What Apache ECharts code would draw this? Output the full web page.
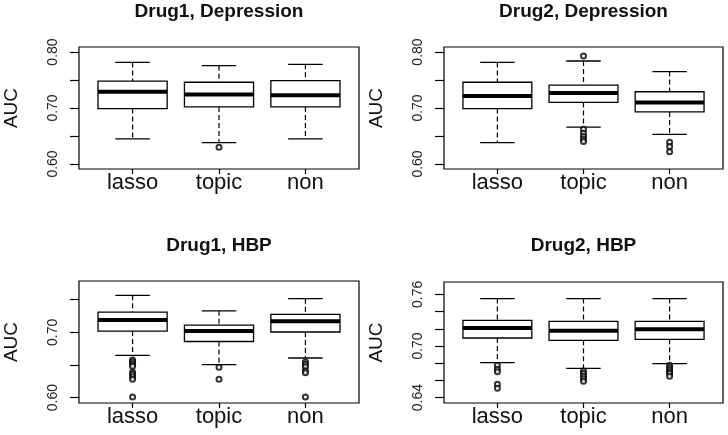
<!DOCTYPE html>
<html><head><meta charset="utf-8">
<script src="https://cdn.jsdelivr.net/npm/echarts@6/dist/echarts.min.js"></script>
<style>html,body{margin:0;padding:0;background:#fff}#c{width:728px;height:435px}</style>
</head><body><div id="c"></div>
<script>
const categories = ['lasso', 'topic', 'non'];
const titles = ['Drug1, Depression', 'Drug2, Depression', 'Drug1, HBP', 'Drug2, HBP'];

// [lower whisker, Q1, median, Q3, upper whisker] for lasso, topic, non
const drug1DepStats = [[0.645, 0.699, 0.729, 0.748, 0.7815], [0.638, 0.702, 0.724, 0.746, 0.7756], [0.645, 0.702, 0.7226, 0.749, 0.778]];
const drug1DepOutliers = [[], [0.630], []];

const drug2DepStats = [[0.638, 0.699, 0.7214, 0.746, 0.7815], [0.666, 0.710, 0.727, 0.741, 0.784], [0.653, 0.693, 0.710, 0.729, 0.765]];
const drug2DepOutliers = [[], [0.793, 0.662, 0.655, 0.649, 0.644, 0.640], [0.639, 0.631, 0.622]];

const drug1HbpStats = [[0.6648, 0.702, 0.719, 0.731, 0.7566], [0.6505, 0.686, 0.702, 0.711, 0.733], [0.6607, 0.7005, 0.717, 0.7276, 0.7515]];
const drug1HbpOutliers = [[0.6577, 0.6546, 0.651, 0.648, 0.639, 0.636, 0.632, 0.628, 0.601], [0.6464, 0.628], [0.6546, 0.651, 0.6474, 0.6413, 0.638, 0.601]];

const drug2HbpStats = [[0.6806, 0.7093, 0.721, 0.7298, 0.755], [0.674, 0.7066, 0.7178, 0.7286, 0.755], [0.6795, 0.7077, 0.7194, 0.7286, 0.755]];
const drug2HbpOutliers = [[0.6775, 0.673, 0.670, 0.6555, 0.6508], [0.671, 0.668, 0.665, 0.662, 0.659], [0.6775, 0.675, 0.6725, 0.670, 0.668, 0.665]];

// axis ranges and ticks
const yRanges = [[0.591, 0.809], [0.591, 0.809], [0.5918, 0.7786], [0.6338, 0.7743]];
const yTicks = [[0.60, 0.65, 0.70, 0.75, 0.80], [0.60, 0.65, 0.70, 0.75, 0.80], [0.60, 0.65, 0.70, 0.75], [0.64, 0.66, 0.68, 0.70, 0.72, 0.74, 0.76]];
const yLabels = [[0.60, 0.70, 0.80], [0.60, 0.70, 0.80], [0.60, 0.70], [0.64, 0.70, 0.76]];

const allStats = [drug1DepStats, drug2DepStats, drug1HbpStats, drug2HbpStats];
const allOutliers = [drug1DepOutliers, drug2DepOutliers, drug1HbpOutliers, drug2HbpOutliers];

const FONT = "'Liberation Sans', Arial, sans-serif";
const grids = [
  {left: 79, top: 47, width: 280, height: 122},
  {left: 444, top: 47, width: 279, height: 122},
  {left: 79, top: 281, width: 280, height: 122},
  {left: 444, top: 282, width: 279, height: 121}
];

function renderBox(params, api) {
  const x = api.value(0);
  const lo = api.coord([x, api.value(1)]);
  const q1 = api.coord([x, api.value(2)]);
  const md = api.coord([x, api.value(3)]);
  const q3 = api.coord([x, api.value(4)]);
  const hi = api.coord([x, api.value(5)]);
  const bw = api.size([0.8, 0])[0];
  const cw = bw / 2;
  const cx = lo[0];
  const dashed = {stroke: '#000', lineWidth: 1.2, lineDash: [5, 3]};
  const solid = {stroke: '#000', lineWidth: 1.3};
  return {type: 'group', children: [
    {type: 'line', shape: {x1: cx, y1: hi[1], x2: cx, y2: q3[1]}, style: dashed},
    {type: 'line', shape: {x1: cx, y1: q1[1], x2: cx, y2: lo[1]}, style: dashed},
    {type: 'line', shape: {x1: cx - cw / 2, y1: hi[1], x2: cx + cw / 2, y2: hi[1]}, style: solid},
    {type: 'line', shape: {x1: cx - cw / 2, y1: lo[1], x2: cx + cw / 2, y2: lo[1]}, style: solid},
    {type: 'rect', shape: {x: cx - bw / 2, y: q3[1], width: bw, height: q1[1] - q3[1]}, style: {fill: '#fff', stroke: '#000', lineWidth: 1.3}},
    {type: 'line', shape: {x1: cx - bw / 2, y1: md[1], x2: cx + bw / 2, y2: md[1]}, style: {stroke: '#000', lineWidth: 4}}
  ]};
}

const option = {
  animation: false,
  backgroundColor: '#fff',
  grid: grids.map(g => Object.assign({show: true, borderColor: '#000', borderWidth: 1.2, backgroundColor: 'transparent'}, g)),
  xAxis: grids.map((g, i) => ({
    type: 'value', gridIndex: i, min: 0.38, max: 3.62,
    splitLine: {show: false}, axisLine: {show: false},
    axisTick: {show: true, length: 5, customValues: [1, 2, 3], lineStyle: {color: '#000', width: 1.2}},
    axisLabel: {customValues: [1, 2, 3], margin: 3, fontSize: 22, fontFamily: FONT, color: '#111',
      formatter: v => categories[Math.round(v) - 1]}
  })),
  yAxis: grids.map((g, i) => ({
    type: 'value', gridIndex: i, min: yRanges[i][0], max: yRanges[i][1],
    name: 'AUC', nameLocation: 'middle', nameGap: 58, nameRotate: 90,
    nameTextStyle: {fontSize: 19, fontFamily: FONT, color: '#111'},
    splitLine: {show: false}, axisLine: {show: false},
    axisTick: {show: true, length: 9, customValues: yTicks[i], lineStyle: {color: '#000', width: 1.2}},
    axisLabel: {customValues: yLabels[i], rotate: 90, margin: 19, fontSize: 14, fontFamily: FONT, color: '#222',
      formatter: v => v.toFixed(2)}
  })),
  graphic: titles.map((t, i) => ({
    type: 'text',
    x: grids[i].left + grids[i].width / 2,
    y: i < 2 ? 12 : 246,
    style: {text: t, font: 'bold 19px ' + FONT, fill: '#111', textAlign: 'center', textVerticalAlign: 'middle'}
  })),
  series: []
};

allStats.forEach((stats, i) => {
  option.series.push({
    type: 'custom', xAxisIndex: i, yAxisIndex: i,
    renderItem: renderBox,
    encode: {x: 0, y: [1, 2, 3, 4, 5]},
    data: stats.map((s, k) => [k + 1].concat(s))
  });
  const pts = [];
  allOutliers[i].forEach((arr, k) => arr.forEach(v => pts.push([k + 1, v])));
  option.series.push({
    type: 'scatter', xAxisIndex: i, yAxisIndex: i,
    symbol: 'emptyCircle', symbolSize: 5,
    itemStyle: {color: '#000', borderWidth: 1.1},
    data: pts
  });
});

const chart = echarts.init(document.getElementById('c'), null, {renderer: 'canvas'});
chart.setOption(option);
</script>
</body></html>
